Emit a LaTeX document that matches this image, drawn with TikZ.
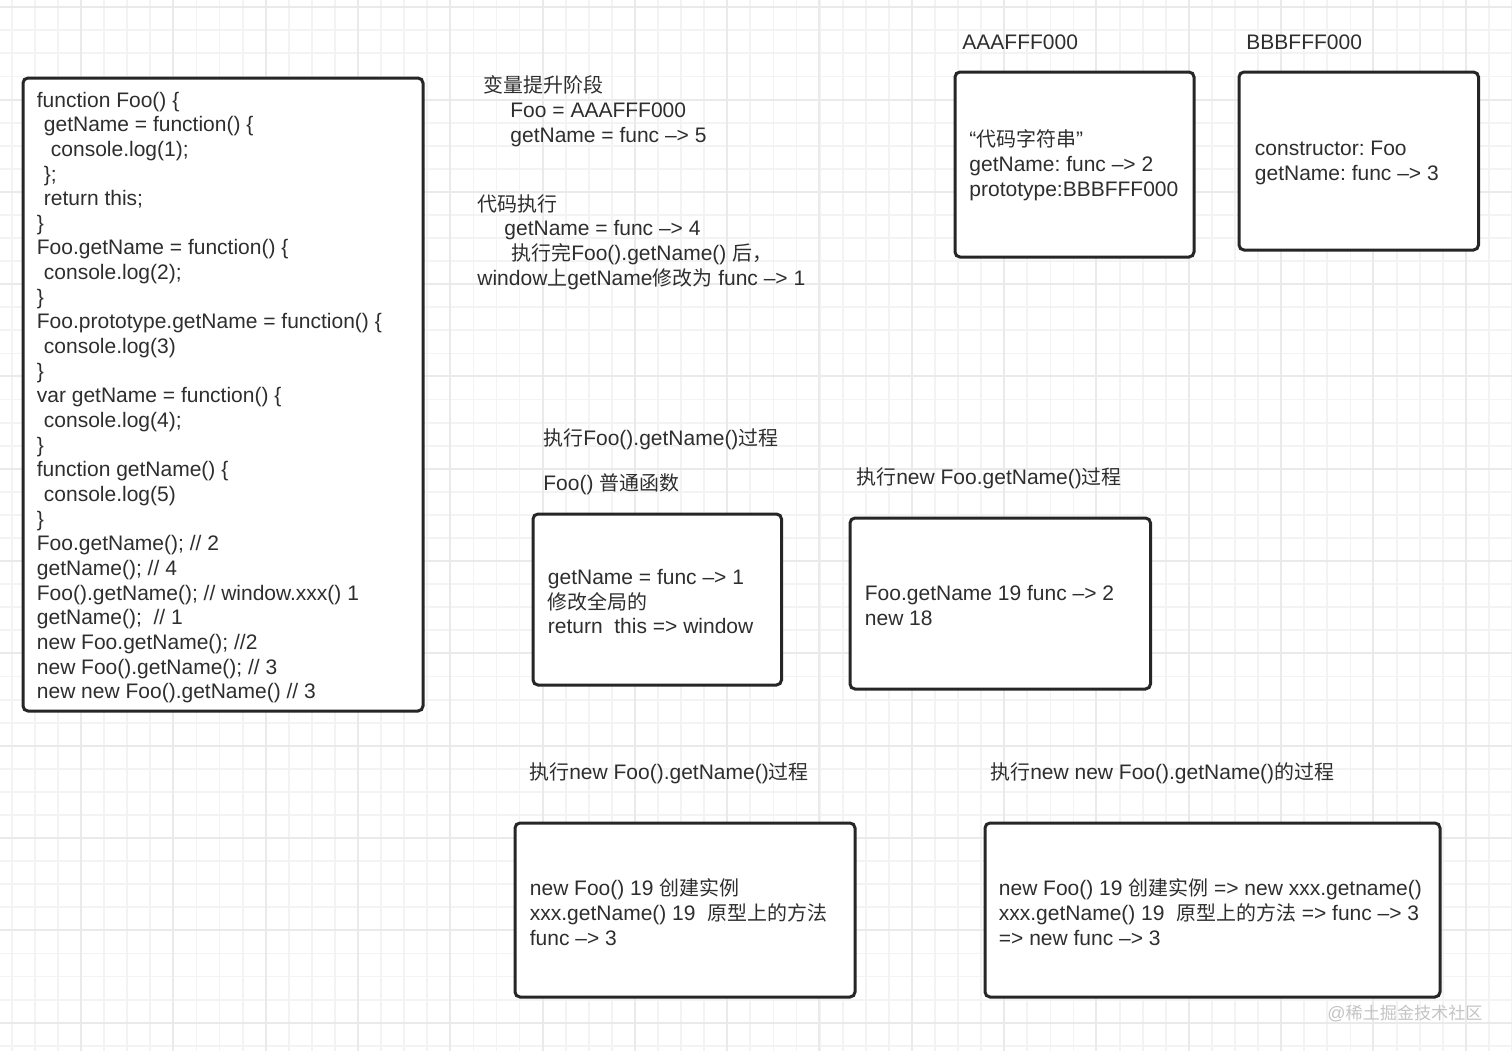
\documentclass[tikz,border=0pt]{standalone}
\usepackage{fontspec}
\setmainfont{Liberation Sans}
\newfontfamily\cjk[Scale=0.95]{Noto Sans CJK SC}
\usepackage{tikz}
\frenchspacing
\newcommand{\zh}[1]{{\cjk #1}}
\newcommand{\ind}{\hspace*{3.5pt}}
\definecolor{ink}{HTML}{2E2E2E}
\definecolor{edge}{HTML}{262626}
\definecolor{gridminor}{HTML}{F3F3F3}
\definecolor{gridmajor}{HTML}{EAEAEA}
\definecolor{mark}{HTML}{C4C4C4}

\begin{document}
\begin{tikzpicture}[x=0.5pt,y=-0.5pt,
    box/.style={draw=edge,line width=1.5pt,rounded corners=2.5pt,fill=white,inner sep=0pt},
    txt/.style={anchor=west,align=left,inner sep=0pt,text=ink,font=\fontsize{10.5pt}{12.4pt}\selectfont},
    minorline/.style={draw=gridminor,line width=0.9pt},
    majorline/.style={draw=gridmajor,line width=1pt}]
    \fill[white] (0,0) rectangle (1512,1051);
    \useasboundingbox (0,0) rectangle (1512,1051);

    % grid
    \foreach \i in {0,...,65}
      \draw[minorline] ({11.8+23.08*\i},0) -- ({11.8+23.08*\i},1051);
    \foreach \i in {0,...,45}
      \draw[minorline] (0,{7.2+23.08*\i}) -- (1512,{7.2+23.08*\i});
    \foreach \i in {1,...,16}
      \draw[majorline] ({-11.3+92.3*\i},0) -- ({-11.3+92.3*\i},1051);
    \foreach \i in {0,...,11}
      \draw[majorline] (0,{7.2+92.3*\i}) -- (1512,{7.2+92.3*\i});

    % boxes
    \node[box,minimum width=200pt,minimum height=316.5pt] (code) at (223,394.5) {};
    \node[box,minimum width=119.5pt,minimum height=92.5pt] (aaa) at (1074.5,164.5) {};
    \node[box,minimum width=119.75pt,minimum height=89pt] (bbb) at (1358.75,161) {};
    \node[box,minimum width=124.25pt,minimum height=85.5pt] (foocall) at (657.25,599.5) {};
    \node[box,minimum width=150.25pt,minimum height=85.5pt] (newfooget) at (1000.25,603.5) {};
    \node[box,minimum width=170pt,minimum height=87pt] (newfoocall) at (685,910) {};
    \node[box,minimum width=227.5pt,minimum height=87pt] (newnew) at (1212.5,910) {};

    % code listing
    \node[txt,font=\fontsize{10.5pt}{12.33pt}\selectfont] (codetext) at ([xshift=7.5pt,yshift=-1.5pt]code.west) {%
      function Foo() \{\\
      \ind getName = function() \{\\
      \ind\ind console.log(1);\\
      \ind \};\\
      \ind return this;\\
      \}\\
      Foo.getName = function() \{\\
      \ind console.log(2);\\
      \}\\
      Foo.prototype.getName = function() \{\\
      \ind console.log(3)\\
      \}\\
      var getName = function() \{\\
      \ind console.log(4);\\
      \}\\
      function getName() \{\\
      \ind console.log(5)\\
      \}\\
      Foo.getName(); // 2\\
      getName(); // 4\\
      Foo().getName(); // window.xxx() 1\\
      getName();\ \ // 1\\
      new Foo.getName(); //2\\
      new Foo().getName(); // 3\\
      new new Foo().getName() // 3};

    % notes
    \node[txt] (hoist) at (483,111) {%
      \zh{变量提升阶段}\\
      \hspace*{13.5pt}Foo = AAAFFF000\\
      \hspace*{13.5pt}getName = func –> 5};
    \node[txt] (exec) at (477,242) {%
      \zh{代码执行}\\
      \hspace*{13.5pt}getName = func –> 4\\
      \hspace*{17pt}\zh{执行完}Foo().getName() \zh{后，}\\
      window\zh{上}getName\zh{修改为} func –> 1};

    % memory
    \node[txt] (aaalabel) at (962,42) {AAAFFF000};
    \node[txt] (bbblabel) at (1246,42) {BBBFFF000};
    \node[txt] (aaatext) at ([xshift=7.75pt,yshift=-0.5pt]aaa.west) {%
      “\zh{代码字符串}”\\
      getName: func –> 2\\
      prototype:BBBFFF000};
    \node[txt] (bbbtext) at ([xshift=8.5pt,yshift=-1pt]bbb.west) {%
      constructor: Foo\\
      getName: func –> 3};

    % steps
    \node[txt] (foocalltitle) at (543,439) {\zh{执行}Foo().getName()\zh{过程}};
    \node[txt] (foocallnote) at (543,484) {Foo() \zh{普通函数}};
    \node[txt] (foocalltext) at ([xshift=8pt,yshift=-1pt]foocall.west) {%
      getName = func –> 1\\
      \zh{修改全局的}\\
      return\ \ this => window};

    \node[txt] (newfoogettitle) at (856,478) {\zh{执行}new Foo.getName()\zh{过程}};
    \node[txt] (newfoogettext) at ([xshift=8pt,yshift=-1pt]newfooget.west) {%
      Foo.getName 19 func –> 2\\
      new 18};

    \node[txt] (newfoocalltitle) at (529,773) {\zh{执行}new Foo().getName()\zh{过程}};
    \node[txt] (newfoocalltext) at ([xshift=8pt,yshift=-1pt]newfoocall.west) {%
      new Foo() 19 \zh{创建实例}\\
      xxx.getName() 19\ \ \zh{原型上的方法}\\
      func –> 3};

    \node[txt] (newnewtitle) at (990,773) {\zh{执行}new new Foo().getName()\zh{的过程}};
    \node[txt] (newnewtext) at ([xshift=7.5pt,yshift=-1pt]newnew.west) {%
      new Foo() 19 \zh{创建实例} => new xxx.getname()\\
      xxx.getName() 19\ \ \zh{原型上的方法} => func –> 3\\
      => new func –> 3};

    \node[text=mark,inner sep=0pt,font=\fontsize{9pt}{10pt}\selectfont] (watermark) at (1405,1013) {@\zh{稀土掘金技术社区}};
\end{tikzpicture}
\end{document}
